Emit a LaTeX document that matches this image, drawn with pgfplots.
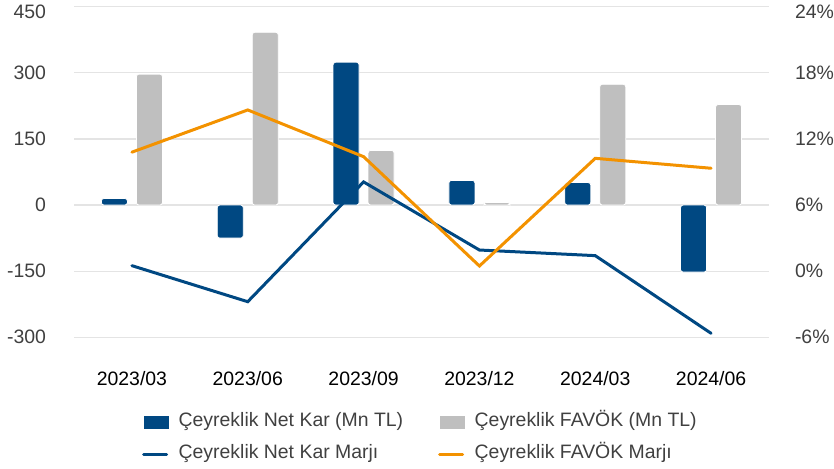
\documentclass[border=0pt]{standalone}
\usepackage{fontspec}
\setmainfont{Liberation Sans}
\usepackage{pgfplots}
\pgfplotsset{compat=1.18}
\definecolor{navyc}{RGB}{0,72,130}
\definecolor{grayc}{RGB}{191,191,191}
\definecolor{orangec}{RGB}{243,146,0}
\definecolor{gridc}{RGB}{228,228,228}
\definecolor{txt}{RGB}{64,64,64}
\begin{document}
\begin{tikzpicture}
\useasboundingbox (0,0) rectangle (834bp,469bp);
\pgfplotsset{base/.style={
  at={(74bp,131.7bp)}, anchor=south west,
  scale only axis, width=695bp, height=330.6bp,
  xmin=-0.5, xmax=5.5,
  axis line style={draw=none}, tick style={draw=none},
  font=\fontsize{19.5}{23}\selectfont,
  clip=false}}
\begin{axis}[base,
  ymin=-300, ymax=450,
  ytick={-300,-150,0,150,300,450},
  yticklabels={-300,-150,0,150,300,\raisebox{-12bp}[0pt][0pt]{450}},
  ymajorgrids, grid style={gridc, line width=1.3bp},
  xtick={0,1,2,3,4,5},
  xticklabels={2023/03,2023/06,2023/09,2023/12,2024/03,2024/06},
  xticklabel style={black, yshift=-31bp},
  yticklabel style={txt, xshift=-24.5bp},
]
\addplot[ybar, bar width=26bp, bar shift=-17.5bp, fill=navyc, draw=white, line width=0.8bp, rounded corners=2.5bp]
  coordinates {(0,15) (1,-75) (2,324) (3,56) (4,51) (5,-152)};
\addplot[ybar, bar width=26bp, bar shift=17.5bp, fill=grayc, draw=white, line width=0.8bp, rounded corners=2.5bp]
  coordinates {(0,297) (1,392) (2,124) (3,6) (4,274) (5,228)};
\end{axis}
\begin{axis}[base,
  ymin=-6, ymax=24,
  ytick={-6,0,6,12,18,24},
  yticklabels={-6\%,0\%,6\%,12\%,18\%,\raisebox{-12bp}[0pt][0pt]{24\%}},
  yticklabel pos=right,
  yticklabel style={txt, xshift=22.5bp},
  xtick=\empty,
  legend columns=2,
  legend cell align=left,
  legend style={at={(0.0978,-0.231)}, anchor=north west, draw=none, fill=none,
    inner sep=0pt, row sep=15bp, text=txt,
    nodes={inner sep=0pt, text height=13bp, text depth=4bp},
    /tikz/every odd column/.append style={column sep=10bp},
    /tikz/every even column/.append style={column sep=35bp}},
]
\addlegendimage{fill=navyc, draw=none, legend image code/.code={\fill (0bp,-6.3bp) rectangle (25bp,6.3bp);}}
\addlegendimage{fill=grayc, draw=none, legend image code/.code={\fill (0bp,-6.3bp) rectangle (25bp,6.3bp);}}
\addplot[navyc, line width=3bp, line cap=round, legend image code/.code={\draw[line width=3bp] (0bp,0bp) -- (23bp,0bp);}]
  coordinates {(0,0.5) (1,-2.77) (2,8.1) (3,1.92) (4,1.41) (5,-5.64)};
\addplot[orangec, line width=3bp, line cap=round, legend image code/.code={\draw[line width=3bp] (0bp,0bp) -- (23bp,0bp);}]
  coordinates {(0,10.8) (1,14.63) (2,10.39) (3,0.47) (4,10.24) (5,9.34)};
\legend{Çeyreklik Net Kar (Mn TL),Çeyreklik FAVÖK (Mn TL),Çeyreklik Net Kar Marjı,Çeyreklik FAVÖK Marjı}
\end{axis}
\end{tikzpicture}
\end{document}
